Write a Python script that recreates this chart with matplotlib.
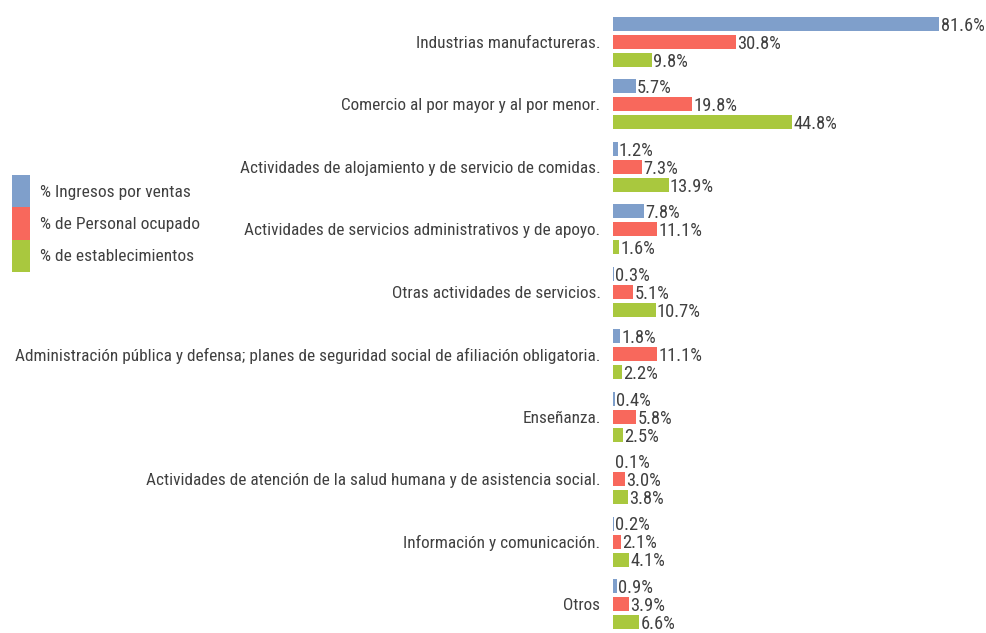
import numpy as np
import matplotlib
matplotlib.use('Agg')
import matplotlib.pyplot as plt
from matplotlib.patches import Patch
from matplotlib import font_manager

# fuente estrecha parecida a Arial Narrow
names = set(f.name for f in font_manager.fontManager.ttflist)
fam = 'DejaVu Sans'
for n in ['Liberation Sans Narrow', 'Roboto Condensed', 'Archivo Narrow']:
    if n in names:
        fam = n
        break
plt.rcParams['font.family'] = [fam, 'DejaVu Sans']
plt.rcParams['font.stretch'] = 'condensed'

categorias = ['Industrias manufactureras.',
              'Comercio al por mayor y al por menor.',
              'Actividades de alojamiento y de servicio de comidas.',
              'Actividades de servicios administrativos y de apoyo.',
              'Otras actividades de servicios.',
              'Administración pública y defensa; planes de seguridad social de afiliación obligatoria.',
              'Enseñanza.',
              'Actividades de atención de la salud humana y de asistencia social.',
              'Información y comunicación.',
              'Otros']
ingresos = [81.6, 5.7, 1.2, 7.8, 0.3, 1.8, 0.4, 0.1, 0.2, 0.9]
personal = [30.8, 19.8, 7.3, 11.1, 5.1, 11.1, 5.8, 3.0, 2.1, 3.9]
establec = [9.8, 44.8, 13.9, 1.6, 10.7, 2.2, 2.5, 3.8, 4.1, 6.6]
series = ['% Ingresos por ventas', '% de Personal ocupado', '% de establecimientos']
colores = ['#7f9fcb', '#f8685c', '#a9c83e']
txt = '#404040'

fig = plt.figure(figsize=(9.87, 6.33), dpi=100)
ax = fig.add_axes([613/987, 0, (985-613)/987, 1-10/633])

y = np.arange(len(categorias))
off = 0.288
h = 0.224
for k, vals in enumerate([ingresos, personal, establec]):
    pos = y + (k-1)*off
    ax.barh(pos, vals, height=h, color=colores[k])
    for p, v in zip(pos, vals):
        ax.text(v+0.3, p+0.03, '%.1f%%' % v, ha='left', va='center',
                fontsize=13.3, color=txt)

ax.set_xlim(0, 93)
ax.set_ylim(9.465, -0.513)
ax.set_yticks(y)
ax.set_yticklabels(categorias, fontsize=12.4, color=txt)
ax.tick_params(axis='y', length=0, pad=9)
ax.set_xticks([])
for s in ax.spines.values():
    s.set_visible(False)

handles = [Patch(facecolor=c) for c in colores]
fig.legend(handles, series, loc='upper left', bbox_to_anchor=(12/987, 1-175/633),
           frameon=False, fontsize=12.5, handlelength=1.05, handleheight=2.5,
           handletextpad=0.55, labelspacing=0, borderaxespad=0, borderpad=0,
           labelcolor=txt)

fig.savefig('out.png', dpi=100)
